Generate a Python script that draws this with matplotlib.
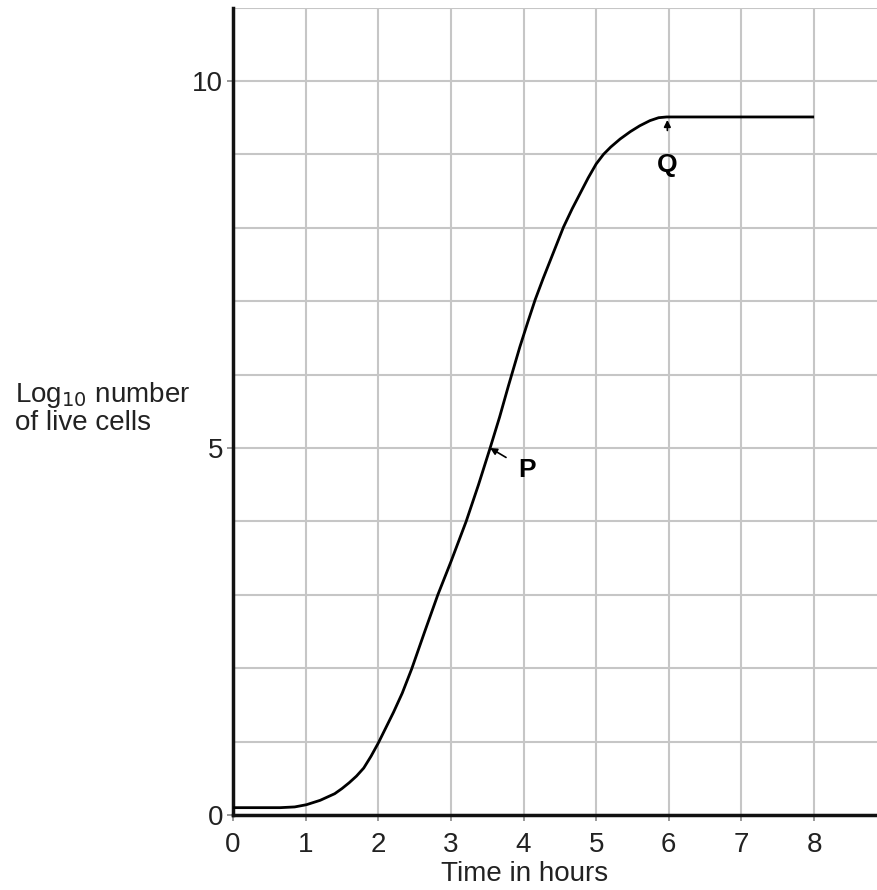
import matplotlib
matplotlib.use("Agg")
from matplotlib import pyplot as plt
from matplotlib.ticker import MultipleLocator

plt.rcParams['font.family'] = ['Liberation Sans', 'DejaVu Sans']

# curve: time (hours), log10 number of live cells
hours = [0.0, 0.65, 0.85, 1.01, 1.2, 1.4, 1.5, 1.6, 1.7, 1.8, 1.9, 2.0, 2.1, 2.21,
         2.33, 2.46, 2.64, 2.82, 3.0, 3.21, 3.38, 3.54, 3.67, 3.79, 3.95,
         4.06, 4.16, 4.27, 4.37, 4.55, 4.67, 4.78, 4.89, 5.0, 5.1, 5.2, 5.33, 5.47,
         5.6, 5.74, 5.86, 5.97, 8.0]
log_cells = [0.1, 0.1, 0.11, 0.14, 0.2, 0.29, 0.36, 0.44, 0.53, 0.64, 0.8, 0.98, 1.18, 1.4,
             1.66, 1.99, 2.5, 3.0, 3.45, 4.0, 4.5, 5.0, 5.42, 5.84, 6.38,
             6.72, 7.02, 7.31, 7.56, 8.01, 8.26, 8.47, 8.68, 8.87, 9.0, 9.1, 9.21, 9.31,
             9.39, 9.46, 9.5, 9.51, 9.51]

x_ticks = [0, 1, 2, 3, 4, 5, 6, 7, 8]
y_ticks = [0, 5, 10]

point_p = (3.54, 5.0)
label_p = (4.05, 4.70)
point_q = (5.98, 9.47)
label_q = (5.98, 8.86)

dpi = 100
fig = plt.figure(figsize=(878 / dpi, 890 / dpi), dpi=dpi)
ax = fig.add_axes([233 / 878, 75 / 890, 1 - 233 / 878, (815 - 7.6) / 890])

ax.plot(hours, log_cells, color='black', lw=2.0, solid_joinstyle='round',
        solid_capstyle='butt', zorder=3)

ax.set_xlim(0, 8.88)
ax.set_ylim(0, 11)
ax.set_xticks(x_ticks)
ax.set_yticks(y_ticks)
ax.yaxis.set_minor_locator(MultipleLocator(1))
ax.grid(True, which='both', color='#c6c6c6', lw=1.5, zorder=0)
ax.set_axisbelow(True)
ax.tick_params(axis='both', which='major', length=4, width=1.2, color='#888888',
               labelsize=20, labelcolor='#222222')
ax.tick_params(axis='x', which='major', pad=8)
ax.tick_params(axis='y', which='major', pad=3)
ax.tick_params(axis='y', which='minor', length=0)

for side in ['top', 'right']:
    ax.spines[side].set_visible(False)
for side in ['left', 'bottom']:
    ax.spines[side].set_linewidth(2.5)
    ax.spines[side].set_color('#111111')

# axis titles
fig.text(15 / 878, 1 - 408 / 890, 'Log$_{10}$ number\nof live cells', fontsize=20,
         ha='left', va='center', color='#222222', linespacing=1.0)
ax.text(4.02, -0.8, 'Time in hours', fontsize=20, ha='center', va='center',
        color='#222222', clip_on=False)

# P and Q markers
ax.annotate('P', xy=point_p, xytext=label_p,
            fontsize=19, fontweight='bold', ha='center', va='center',
            arrowprops=dict(arrowstyle='-|>', color='black', lw=1.2,
                            shrinkA=8, shrinkB=0, mutation_scale=10))
ax.annotate('Q', xy=point_q, xytext=label_q,
            fontsize=19, fontweight='bold', ha='center', va='center',
            arrowprops=dict(arrowstyle='-|>', color='black', lw=1.2,
                            shrinkA=14, shrinkB=0, mutation_scale=10))

plt.savefig("out.png", dpi=dpi)
